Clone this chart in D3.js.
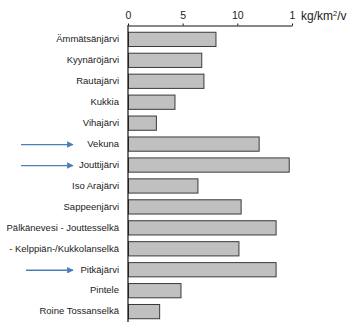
<!DOCTYPE html>
<html>
<head>
<meta charset="utf-8">
<script src="https://cdn.jsdelivr.net/npm/d3@7"></script>
<style>
  html, body { margin: 0; padding: 0; background: #fff; }
  svg { display: block; font-family: "Liberation Sans", Arial, sans-serif; }
</style>
</head>
<body>
<svg id="chart" width="350" height="326"></svg>
<script>
// Lakes, in drawing order from top to bottom
const lakes = [
  "Ämmätsänjärvi", "Kyynäröjärvi", "Rautajärvi", "Kukkia", "Vihajärvi",
  "Vekuna", "Jouttijärvi", "Iso Arajärvi", "Sappeenjärvi",
  "Pälkänevesi - Jouttesselkä", "- Kelppiän-/Kukkolanselkä",
  "Pitkäjärvi", "Pintele", "Roine Tossanselkä"
];
// Load, kg/km²/v
const loads = [8.0, 6.7, 6.9, 4.25, 2.55, 11.95, 14.7, 6.35, 10.3, 13.5, 10.1, 13.5, 4.8, 2.85];
// Axis ticks and the labels printed at them
const tickValues = [0, 5, 10, 15];
const tickLabels = ["0", "5", "10", "1"];
// Lakes marked with an arrow
const marked = ["Vekuna", "Jouttijärvi", "Pitkäjärvi"];

const svg = d3.select("#chart");
const x = d3.scaleLinear().domain([0, 15]).range([128, 292]);
const y = d3.scaleBand().domain(lakes).range([28, 322]).paddingInner(0.32).paddingOuter(0.18);

// Arrow head
svg.append("defs").append("marker")
  .attr("id", "head").attr("viewBox", "0 0 10 10")
  .attr("refX", 9).attr("refY", 5)
  .attr("markerWidth", 5).attr("markerHeight", 5)
  .attr("orient", "auto")
  .append("path").attr("d", "M0,0 L10,5 L0,10 Z").attr("fill", "#4a7ebb");

// Bars
svg.append("g").selectAll("rect").data(lakes).join("rect")
  .attr("x", x(0) + 0.5)
  .attr("y", d => y(d) + 0.5)
  .attr("width", (d, i) => x(loads[i]) - x(0))
  .attr("height", y.bandwidth())
  .attr("fill", "#c0c0c0")
  .attr("stroke", "#3a3a3a")
  .attr("stroke-width", 1);

// Category labels
svg.append("g").selectAll("text").data(lakes).join("text")
  .attr("x", 119)
  .attr("y", d => y(d) + y.bandwidth() / 2)
  .attr("dy", "0.35em")
  .attr("text-anchor", "end")
  .attr("font-size", 9.5)
  .attr("fill", "#222")
  .text(d => d);

// Vertical axis line
svg.append("line")
  .attr("x1", x(0)).attr("x2", x(0))
  .attr("y1", 25).attr("y2", 322)
  .attr("stroke", "#111").attr("stroke-width", 1.2);

// Top value axis
const axis = d3.axisTop(x)
  .tickValues(tickValues)
  .tickFormat((d, i) => tickLabels[i])
  .tickSize(2)
  .tickSizeOuter(0)
  .tickPadding(5);
const ga = svg.append("g").attr("transform", "translate(0,25.5)").call(axis);
ga.select(".domain").attr("stroke", "#111");
ga.selectAll(".tick line").attr("stroke", "#111");
ga.selectAll(".tick text")
  .attr("font-size", 10.5)
  .attr("font-family", "Liberation Sans, Arial, sans-serif")
  .attr("fill", "#222");

// Unit
const unit = svg.append("text")
  .attr("x", 301).attr("y", 20)
  .attr("font-size", 12)
  .attr("fill", "#222");
unit.append("tspan").text("kg/km");
unit.append("tspan").attr("font-size", 7.5).attr("dy", -4).text("2");
unit.append("tspan").attr("dy", 4).text("/v");

// Arrows pointing to marked lakes
svg.append("g").selectAll("line").data(marked).join("line")
  .attr("x1", d => d === "Pitkäjärvi" ? 26 : 21)
  .attr("x2", 73)
  .attr("y1", d => y(d) + y.bandwidth() / 2 + 1)
  .attr("y2", d => y(d) + y.bandwidth() / 2 + 1)
  .attr("stroke", "#4a7ebb")
  .attr("stroke-width", 1.3)
  .attr("marker-end", "url(#head)");
</script>
</body>
</html>
